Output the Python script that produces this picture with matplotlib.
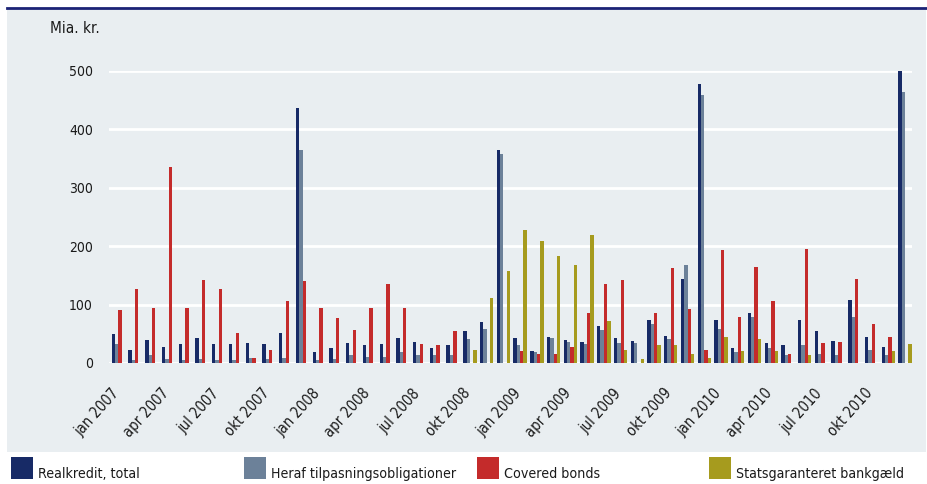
import os
import matplotlib
matplotlib.use("Agg")
import matplotlib.pyplot as plt
import matplotlib.font_manager as fm
from matplotlib.patches import Rectangle
from matplotlib.lines import Line2D
from matplotlib.transforms import ScaledTranslation
import numpy as np

years = [2007, 2008, 2009, 2010]
tick_months = ['jan', 'apr', 'jul', 'okt']
tick_labels = [f"{m} {y}" for y in years for m in tick_months]

series_names = ["Realkredit, total", "Heraf tilpasningsobligationer",
                "Covered bonds", "Statsgaranteret bankgæld"]

realkredit = [49, 23, 39, 27, 32, 43, 32, 32, 34, 32, 52, 437,
              18, 25, 34, 30, 32, 43, 36, 25, 30, 54, 70, 365,
              43, 21, 45, 39, 36, 63, 43, 38, 74, 47, 144, 477,
              74, 25, 86, 34, 30, 74, 54, 38, 108, 45, 27, 500]
tilpasning = [32, 5, 14, 7, 5, 7, 5, 5, 9, 7, 9, 365,
              5, 7, 14, 11, 11, 18, 14, 14, 14, 41, 59, 358,
              30, 18, 43, 36, 32, 56, 34, 34, 67, 41, 167, 459,
              59, 18, 79, 25, 14, 30, 16, 14, 79, 23, 14, 464]
covered = [90, 126, 95, 336, 95, 142, 126, 52, 9, 23, 106, 140,
           95, 77, 56, 95, 135, 95, 32, 30, 54, 0, 0, 0,
           21, 16, 16, 27, 86, 135, 142, 0, 86, 162, 92, 23,
           193, 79, 164, 106, 16, 196, 34, 36, 144, 67, 45, 0]
statsgaranti = [0, 0, 0, 0, 0, 0, 0, 0, 0, 0, 0, 0,
                0, 0, 0, 0, 0, 0, 0, 0, 0, 23, 112, 158,
                227, 209, 184, 167, 220, 72, 23, 7, 30, 30, 16, 9,
                45, 21, 41, 21, 0, 14, 0, 0, 0, 0, 21, 32]

colors = ['#172a66', '#6c8199', '#c42b2b', '#a69b1e']
bg = '#e9eef1'


def pick_font():
    prefs = ['liberationsansnarrow-regular', 'liberationsansnarrow',
             'dejavusanscondensed.ttf', 'robotocondensed-regular',
             'opensans_condensed-regular', 'notosans-condensed',
             'opensanscondensed']
    files = [f.fname for f in fm.fontManager.ttflist]
    low = [(os.path.basename(p).lower().replace(' ', ''), p) for p in files]
    for pref in prefs:
        for b, p in low:
            if b.startswith(pref) and 'bold' not in b and 'italic' not in b \
                    and 'oblique' not in b:
                return fm.FontProperties(fname=p), True
    for b, p in low:
        if ('narrow' in b or 'condensed' in b) and 'bold' not in b and \
                'italic' not in b and 'oblique' not in b and 'light' not in b \
                and 'semi' not in b and 'extra' not in b and 'mono' not in b \
                and 'serif' not in b:
            return fm.FontProperties(fname=p), True
    return fm.FontProperties(family='Roboto'), False


FP, narrow = pick_font()
scale = 1.0 if narrow else 0.85


def fp(size):
    f = FP.copy()
    f.set_size(size * scale)
    return f


W, H = 928, 484
fig = plt.figure(figsize=(W / 100, H / 100), dpi=100)
fig.patch.set_facecolor('white')

# background panel and top rule
fig.patches.append(Rectangle((7 / W, 1 - 452 / H), (926 - 7) / W, (452 - 9) / H,
                             transform=fig.transFigure, facecolor=bg,
                             edgecolor='none', zorder=-5))
fig.lines.append(Line2D([7 / W, 926 / W], [1 - 8 / H, 1 - 8 / H],
                        transform=fig.transFigure, color='#1b2276', lw=2))

ax = fig.add_axes([109 / W, 1 - 363 / H, 803 / W, (363 - 71) / H])
ax.set_facecolor('none')

x = np.arange(len(realkredit))
data = [realkredit, tilpasning, covered, statsgaranti]
offsets = [-0.3, -0.1, 0.1, 0.3]
for vals, off, c in zip(data, offsets, colors):
    ax.bar(x + off, vals, width=0.2, color=c, linewidth=0, clip_on=False, zorder=3)

ax.set_xlim(-0.56, 47.41)
ax.set_ylim(0, 500)
ax.set_yticks([0, 100, 200, 300, 400, 500])
ax.yaxis.grid(True, color='white', lw=2)
ax.set_axisbelow(True)
for s in ax.spines.values():
    s.set_visible(False)

ax.tick_params(axis='y', length=0, pad=11.5, labelcolor='#1a1a1a')
for lab in ax.get_yticklabels():
    lab.set_fontproperties(fp(10))
ax.set_xticks(np.arange(0, 48, 3))
ax.set_xticklabels(tick_labels, rotation=48, ha='right', va='center',
                   rotation_mode='anchor', color='#1a1a1a')
ax.tick_params(axis='x', length=0, pad=20)
off = ScaledTranslation(-2 / 100, 0, fig.dpi_scale_trans)
for lab in ax.get_xticklabels():
    lab.set_fontproperties(fp(10.5))
    lab.set_transform(lab.get_transform() + off)

fig.text(50 / W, 1 - 33 / H, "Mia. kr.", ha='left', va='baseline',
         fontproperties=fp(11), color='#1a1a1a')

# legend
leg_x = [11, 244, 477, 709]
for lx, name, c in zip(leg_x, series_names, colors):
    fig.patches.append(Rectangle((lx / W, 1 - 479 / H), 22 / W, 22 / H,
                                 transform=fig.transFigure, facecolor=c,
                                 edgecolor='none'))
    fig.text((lx + 27) / W, 1 - 478 / H, name, ha='left', va='baseline',
             fontproperties=fp(10.2), color='#1a1a1a')

fig.savefig('out.png', dpi=100, facecolor='white')
